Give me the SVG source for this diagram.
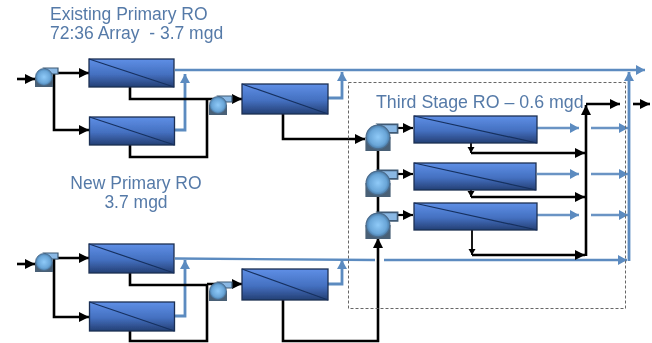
<svg xmlns="http://www.w3.org/2000/svg" width="652" height="343" viewBox="0 0 652 343">
<style>
.t{font-family:"Liberation Sans",Arial,sans-serif;font-size:17.500px;fill:#557aa8}
.v{fill:url(#vg);stroke:#1c2f52;stroke-width:1.3}
.vl{fill:none;stroke:#16305f;stroke-width:1.2}
.k{fill:none;stroke:#000;stroke-width:2.6}
.k2{fill:none;stroke:#000;stroke-width:1.8}
.b{fill:none;stroke:#5b8bc0;stroke-width:2.8}
.bt{fill:none;stroke:#6a94c4;stroke-width:2.4}
.ak{marker-end:url(#ka)}
.as{marker-end:url(#ks)}
.ab{marker-end:url(#ba)}
</style>
<defs>
<filter id="soft" filterUnits="userSpaceOnUse" x="0" y="0" width="652" height="343"><feGaussianBlur stdDeviation="0.45"/></filter>
<linearGradient id="vg" x1="0" y1="0" x2="0" y2="1"><stop offset="0" stop-color="#5f8fe6"/><stop offset="0.55" stop-color="#4470c0"/><stop offset="1" stop-color="#243f74"/></linearGradient>
<radialGradient id="pg" cx="0.5" cy="0.5" r="0.55"><stop offset="0" stop-color="#8fcaf8"/><stop offset="0.65" stop-color="#6aa6d8"/><stop offset="1" stop-color="#3f6c96"/></radialGradient>
<marker id="ka" markerUnits="userSpaceOnUse" markerWidth="12" markerHeight="12" refX="10" refY="5" orient="auto"><path d="M0 0L10 5L0 10Z" fill="#000"/></marker>
<marker id="ks" markerUnits="userSpaceOnUse" markerWidth="8" markerHeight="8" refX="6" refY="3.500" orient="auto"><path d="M0 0L6 3.500L0 7Z" fill="#000"/></marker>
<marker id="ba" markerUnits="userSpaceOnUse" markerWidth="12" markerHeight="12" refX="9" refY="5" orient="auto"><path d="M0 0L9 5L0 10Z" fill="#5b8bc0"/></marker>
<g id="pump"><rect x="-9" y="0" width="18" height="10" fill="#4a6076"/><path d="M0 -9H14V-3H8Z" fill="#8ab8e4" stroke="#3f5a74" stroke-width="1.2"/><circle r="8.500" fill="url(#pg)" stroke="#4c6c8c" stroke-width="0.8"/></g>
</defs>
<g filter="url(#soft)">
<g id="connectors">
<path class="b ab" d="M175 70H645" style="stroke-width:2.6"/>
<path class="b ab" d="M175 130H185V74"/>
<path class="b ab" d="M328 98H342V72"/>
<path class="b ab" d="M629 261V72"/>
<path class="b" d="M175 258.500L375 260" style="stroke-width:2.4"/>
<path class="b ab" d="M384 260H627" style="stroke-width:2.4"/>
<path class="b ab" d="M175 316H185V260"/>
<path class="b ab" d="M328 284H342V260"/>
<path class="bt ab" d="M537 128H579"/><path class="bt ab" d="M591 128H628"/>
<path class="bt ab" d="M537 174H579"/><path class="bt ab" d="M591 174H628"/>
<path class="bt ab" d="M537 215H579"/><path class="bt ab" d="M591 215H628"/>
<path class="k ak" d="M17 79H35"/>
<path class="k ak" d="M54 73H89"/>
<path class="k ak" d="M54 73V130H89"/>
<path class="k" d="M130 87V99H207"/>
<path class="k" d="M130 145V157H207V99"/>
<path class="k ak" d="M207 99H242"/>
<path class="k ak" d="M283 113V139H365"/>
<path class="k ak" d="M17 264H35"/>
<path class="k ak" d="M54 258H89"/>
<path class="k ak" d="M54 258V317H89"/>
<path class="k" d="M130 273V285H207"/>
<path class="k" d="M130 331V341H207V285"/>
<path class="k ak" d="M207 284H242"/>
<path class="k ak" d="M283 300V341H378V238"/>
<path class="k" d="M378 148V172"/><path class="k" d="M378 194V214"/>
<path class="k ak" d="M390 128H413" style="stroke-width:2.2"/>
<path class="k ak" d="M390 174H413" style="stroke-width:2.2"/>
<path class="k ak" d="M390 215H413" style="stroke-width:2.2"/>
<path class="k2 as" d="M471 143V153"/><path class="k ak" d="M471 153H585"/>
<path class="k2 as" d="M471 190V197"/><path class="k ak" d="M471 197H585"/>
<path class="k2 as" d="M472 230V255"/><path class="k ak" d="M472 255H585"/>
<path class="k ak" d="M586 256V105"/>
<path class="k ak" d="M586 104H620"/>
<path class="k ak" d="M633 104H650"/>
</g>
<g id="third-stage-box"><rect x="348.500" y="82.500" width="277" height="226" fill="none" stroke="#666" stroke-width="1" stroke-dasharray="3 2"/></g>
<g id="vessel-1"><rect class="v" x="89" y="59" width="85" height="28"/><path class="vl" d="M89 59L174 87"/></g>
<g id="vessel-2"><rect class="v" x="89.500" y="117" width="85" height="28"/><path class="vl" d="M89.500 117L174.500 145"/></g>
<g id="vessel-3"><rect class="v" x="242" y="84" width="86" height="30"/><path class="vl" d="M242 84L328 114"/></g>
<g id="vessel-4"><rect class="v" x="89" y="244" width="85" height="29"/><path class="vl" d="M89 244L174 273"/></g>
<g id="vessel-5"><rect class="v" x="89.500" y="302" width="85" height="29"/><path class="vl" d="M89.500 302L174.500 331"/></g>
<g id="vessel-6"><rect class="v" x="242" y="269" width="86" height="31"/><path class="vl" d="M242 269L328 300"/></g>
<g id="vessel-7"><rect class="v" x="414" y="116" width="123" height="27"/><path class="vl" d="M414 116L537 143"/></g>
<g id="vessel-8"><rect class="v" x="414" y="163" width="122" height="27"/><path class="vl" d="M414 163L536 190"/></g>
<g id="vessel-9"><rect class="v" x="414" y="203" width="123" height="27"/><path class="vl" d="M414 203L537 230"/></g>
<g id="pump-1"><use href="#pump" transform="translate(44 77)"/></g>
<g id="pump-2"><use href="#pump" transform="translate(218 105)"/></g>
<g id="pump-3"><use href="#pump" transform="translate(44 262)"/></g>
<g id="pump-4"><use href="#pump" transform="translate(218 291)"/></g>
<g id="pump-5"><use href="#pump" transform="translate(378 137) scale(1.4)"/></g>
<g id="pump-6"><use href="#pump" transform="translate(378 183) scale(1.4)"/></g>
<g id="pump-7"><use href="#pump" transform="translate(378 225) scale(1.4)"/></g>
<g id="labels">
<text class="t" x="50" y="20">Existing Primary RO</text>
<text class="t" x="50" y="39" xml:space="preserve">72:36 Array  - 3.7 mgd</text>
<text class="t" x="136" y="189" text-anchor="middle">New Primary RO</text>
<text class="t" x="136" y="208" text-anchor="middle">3.7 mgd</text>
<text class="t" x="376" y="108" style="font-size:17.800px">Third Stage RO – 0.6 mgd</text>
</g>
</g>
</svg>
